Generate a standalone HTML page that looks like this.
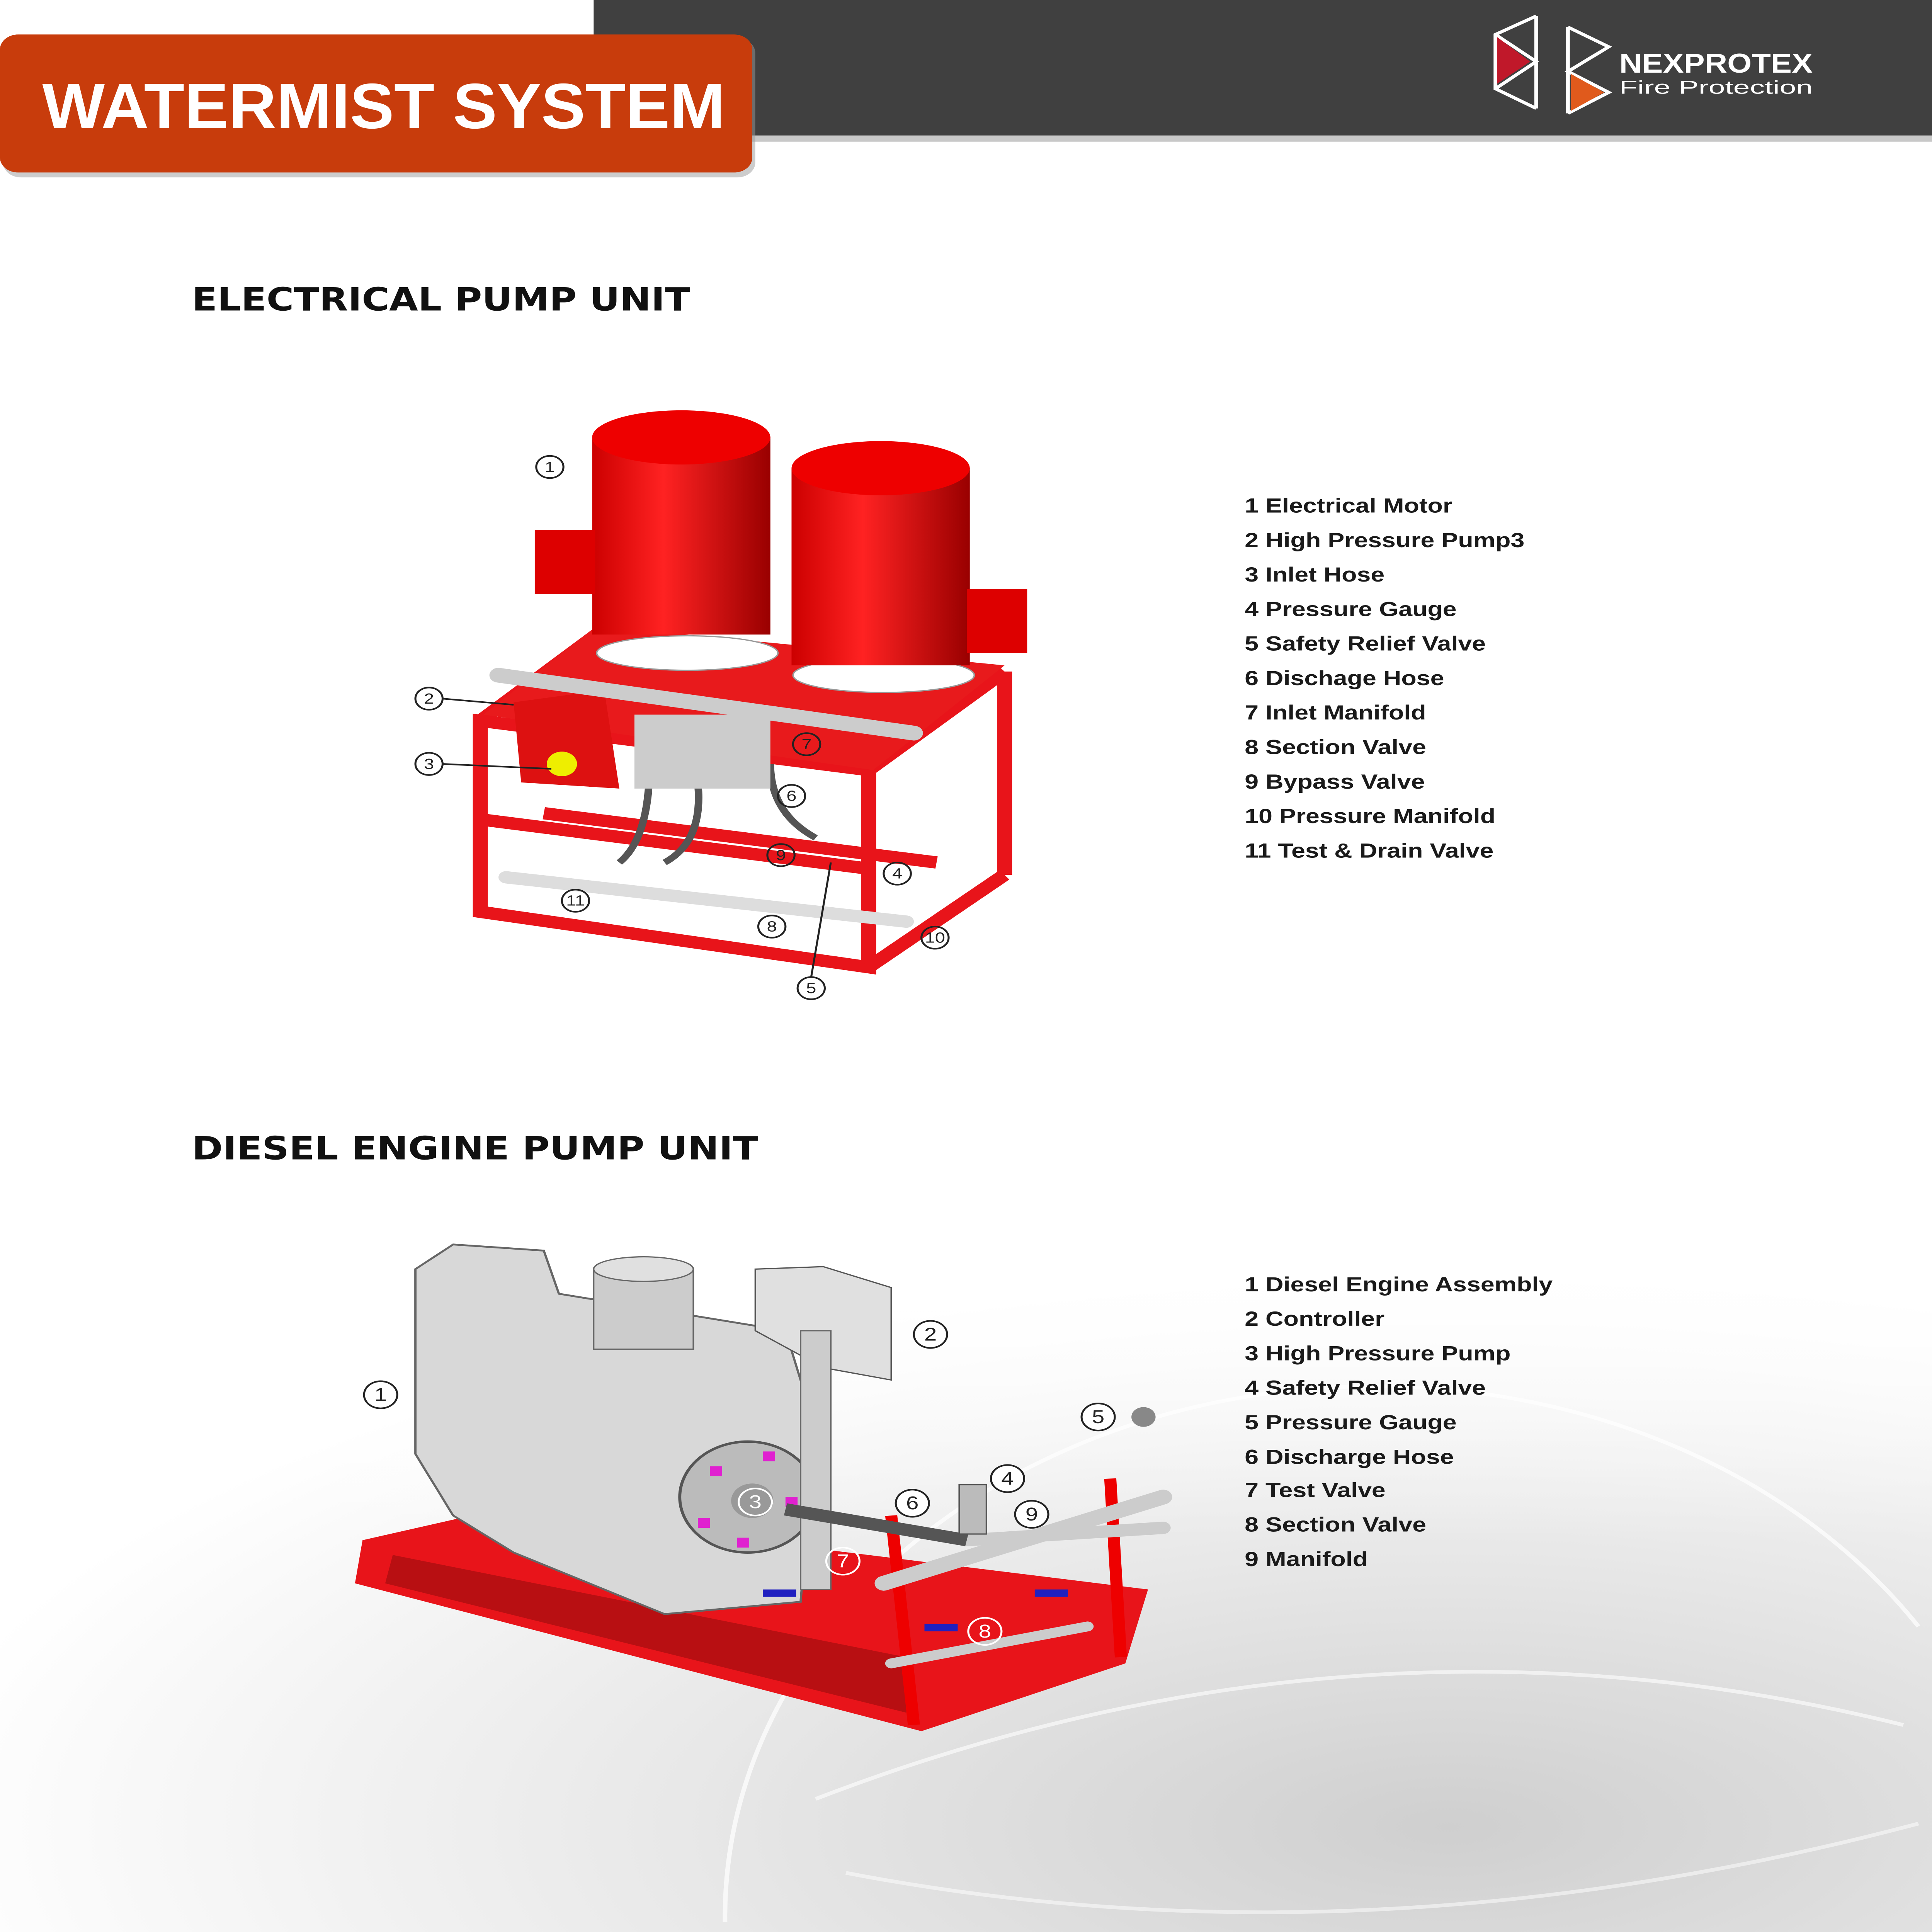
<!DOCTYPE html>
<html><head><meta charset="utf-8"><style>html,body{margin:0;padding:0;background:#fff;width:100%;height:100%;overflow:hidden}svg{display:block;position:fixed;left:0;top:0;width:100vw;height:100vh}</style></head>
<body>
<svg xmlns="http://www.w3.org/2000/svg" viewBox="0 0 1279 1568" preserveAspectRatio="none">
<defs>
<radialGradient id="bg" cx="0.75" cy="0.85" r="0.8">
<stop offset="0" stop-color="#cfcfcf"/><stop offset="0.5" stop-color="#e8e8e8"/><stop offset="1" stop-color="#ffffff"/>
</radialGradient>
<linearGradient id="fade" x1="0" y1="0" x2="0" y2="1">
<stop offset="0" stop-color="#fff" stop-opacity="1"/><stop offset="1" stop-color="#fff" stop-opacity="0"/>
</linearGradient>
<linearGradient id="motor" x1="0" x2="1">
<stop offset="0" stop-color="#c00"/><stop offset="0.4" stop-color="#f22"/><stop offset="1" stop-color="#900"/>
</linearGradient>
</defs>
<rect width="1279" height="1568" fill="#fff"/>
<rect x="0" y="1000" width="1279" height="568" fill="url(#bg)"/>
<rect x="0" y="1000" width="1279" height="250" fill="url(#fade)"/>
<path d="M480,1560 A430,430 0 0 1 1270,1320" fill="none" stroke="#fff" stroke-width="3" opacity="0.7"/>
<path d="M540,1460 Q900,1290 1260,1400" fill="none" stroke="#fff" stroke-width="3" opacity="0.6"/>
<path d="M560,1520 Q900,1600 1270,1480" fill="none" stroke="#fff" stroke-width="3" opacity="0.5"/>

<rect x="393" y="0" width="886" height="110" fill="#404040"/>
<rect x="393" y="110" width="886" height="5" fill="#c8c8c8"/>
<rect x="2" y="31" width="498" height="113" rx="12" fill="#999" opacity="0.5"/>
<rect x="0" y="28" width="498" height="112" rx="12" fill="#c83c0c"/>
<text x="28" y="104" font-family="Liberation Sans, sans-serif" font-weight="bold" font-size="52" fill="#fff" textLength="452" lengthAdjust="spacingAndGlyphs">WATERMIST SYSTEM</text>
<g stroke="#fff" stroke-width="2.5" fill="none">
<polyline points="1017,13 990,28 990,72 1017,88"/><line x1="1017" y1="13" x2="1017" y2="88"/>
<polyline points="990,28 1017,50 990,72"/>
<polyline points="1038,22 1065,38 1038,58 1065,75 1038,92"/><line x1="1038" y1="22" x2="1038" y2="92"/>
</g>
<polygon points="991,30 1013,50 991,68" fill="#c0182a"/>
<polygon points="1040,60 1062,75 1040,90" fill="#e05a1c"/>
<text x="1072" y="59" font-family="Liberation Sans, sans-serif" font-weight="bold" font-size="22" fill="#fff" textLength="128" lengthAdjust="spacingAndGlyphs">NEXPROTEX</text>
<text x="1072" y="76" font-family="Liberation Sans, sans-serif" font-size="15" fill="#fff" textLength="128" lengthAdjust="spacingAndGlyphs">Fire Protection</text>

<g font-family="DejaVu Sans, Liberation Sans, sans-serif" font-weight="bold" fill="#111">
<text x="127" y="252" font-size="26" textLength="330" lengthAdjust="spacingAndGlyphs">ELECTRICAL PUMP UNIT</text>
<text x="127" y="941" font-size="26" textLength="375" lengthAdjust="spacingAndGlyphs">DIESEL ENGINE PUMP UNIT</text>
</g>

<g font-family="Liberation Sans, sans-serif" font-weight="bold" font-size="16.5" fill="#1a1a1a">
<text x="824" y="416">1 Electrical Motor</text>
<text x="824" y="444">2 High Pressure Pump3</text>
<text x="824" y="472">3 Inlet Hose</text>
<text x="824" y="500">4 Pressure Gauge</text>
<text x="824" y="528">5 Safety Relief Valve</text>
<text x="824" y="556">6 Dischage Hose</text>
<text x="824" y="584">7 Inlet Manifold</text>
<text x="824" y="612">8 Section Valve</text>
<text x="824" y="640">9 Bypass Valve</text>
<text x="824" y="668">10 Pressure Manifold</text>
<text x="824" y="696">11 Test &amp; Drain Valve</text>
<text x="824" y="1048">1 Diesel Engine Assembly</text>
<text x="824" y="1076">2 Controller</text>
<text x="824" y="1104">3 High Pressure Pump</text>
<text x="824" y="1132">4 Safety Relief Valve</text>
<text x="824" y="1160">5 Pressure Gauge</text>
<text x="824" y="1188">6 Discharge Hose</text>
<text x="824" y="1215">7 Test Valve</text>
<text x="824" y="1243">8 Section Valve</text>
<text x="824" y="1271">9 Manifold</text>
</g>

<g>
<g fill="none" stroke="#e8141a" stroke-width="10">
<polygon points="318,585 575,625 575,785 318,740"/>
<line x1="575" y1="625" x2="665" y2="545"/><line x1="575" y1="785" x2="665" y2="710"/>
<line x1="665" y1="545" x2="665" y2="710"/><line x1="318" y1="585" x2="395" y2="515"/>
<line x1="318" y1="665" x2="575" y2="705"/>
<line x1="360" y1="660" x2="620" y2="700"/>
</g>
<polygon points="320,580 395,508 665,540 578,625" fill="#e81a1c"/>
<polygon points="340,570 400,560 410,640 345,635" fill="#d11"/>
<line x1="330" y1="548" x2="605" y2="595" stroke="#ccc" stroke-width="12" stroke-linecap="round"/>
<line x1="335" y1="712" x2="600" y2="748" stroke="#ddd" stroke-width="10" stroke-linecap="round"/>
<g fill="none" stroke="#555" stroke-width="5">
<path d="M430,620 q0,60 -20,80"/><path d="M460,620 q10,60 -20,80"/><path d="M510,620 q0,40 30,60"/>
</g>
<rect x="420" y="580" width="90" height="60" fill="#ccc"/>
<circle cx="372" cy="620" r="10" fill="#ee0"/>
<ellipse cx="455" cy="530" rx="60" ry="14" fill="#fff" stroke="#999"/>
<rect x="392" y="355" width="118" height="160" fill="url(#motor)"/>
<ellipse cx="451" cy="355" rx="59" ry="22" fill="#e00"/>
<rect x="354" y="430" width="40" height="52" fill="#d00"/>
<ellipse cx="585" cy="548" rx="60" ry="14" fill="#fff" stroke="#999"/>
<rect x="524" y="380" width="118" height="160" fill="url(#motor)"/>
<ellipse cx="583" cy="380" rx="59" ry="22" fill="#e00"/>
<rect x="640" y="478" width="40" height="52" fill="#d00"/>
</g>
<g font-family="Liberation Sans, sans-serif" font-size="12" fill="#222" text-anchor="middle" stroke-width="1.3">
<g fill="none" stroke="#222"><circle cx="364" cy="379" r="9"/><circle cx="284" cy="567" r="9"/><circle cx="284" cy="620" r="9"/><circle cx="534" cy="604" r="9"/><circle cx="524" cy="646" r="9"/><circle cx="517" cy="694" r="9"/><circle cx="594" cy="709" r="9"/><circle cx="381" cy="731" r="9"/><circle cx="511" cy="752" r="9"/><circle cx="619" cy="761" r="9"/><circle cx="537" cy="802" r="9"/>
<line x1="293" y1="567" x2="340" y2="572"/><line x1="293" y1="620" x2="365" y2="624"/><line x1="537" y1="793" x2="550" y2="700"/></g>
<text x="364" y="383">1</text><text x="284" y="571">2</text><text x="284" y="624">3</text><text x="534" y="608">7</text><text x="524" y="650">6</text><text x="517" y="698">9</text><text x="594" y="713">4</text><text x="381" y="735">11</text><text x="511" y="756">8</text><text x="619" y="765">10</text><text x="537" y="806">5</text>
</g>

<g>
<polygon points="240,1250 330,1225 760,1290 745,1350 610,1405 235,1285" fill="#e8141a"/>
<polygon points="260,1262 600,1345 600,1390 255,1285" fill="#b80f12"/>
<line x1="590" y1="1230" x2="605" y2="1400" stroke="#e00" stroke-width="8"/>
<line x1="735" y1="1200" x2="742" y2="1345" stroke="#e00" stroke-width="8"/>
<path d="M275,1030 L300,1010 L360,1015 L370,1050 L520,1080 L540,1160 L530,1300 L440,1310 L340,1260 L300,1230 L275,1180 Z" fill="#d8d8d8" stroke="#666" stroke-width="1.5"/>
<rect x="393" y="1030" width="66" height="65" fill="#ccc" stroke="#666"/>
<ellipse cx="426" cy="1030" rx="33" ry="10" fill="#e0e0e0" stroke="#666"/>
<circle cx="495" cy="1215" r="45" fill="#bbb" stroke="#555" stroke-width="2"/>
<circle cx="498" cy="1218" r="14" fill="#999"/>
<g fill="#e020d0"><rect x="470" y="1190" width="8" height="8"/><rect x="505" y="1178" width="8" height="8"/><rect x="520" y="1215" width="8" height="8"/><rect x="488" y="1248" width="8" height="8"/><rect x="462" y="1232" width="8" height="8"/></g>
<polygon points="500,1030 545,1028 590,1045 590,1120 545,1110 500,1080" fill="#e0e0e0" stroke="#555"/>
<rect x="530" y="1080" width="20" height="210" fill="#ccc" stroke="#666"/>
<line x1="585" y1="1285" x2="770" y2="1215" stroke="#ccc" stroke-width="12" stroke-linecap="round"/>
<line x1="640" y1="1250" x2="770" y2="1240" stroke="#ccc" stroke-width="10" stroke-linecap="round"/>
<line x1="590" y1="1350" x2="720" y2="1320" stroke="#ccc" stroke-width="8" stroke-linecap="round"/>
<line x1="520" y1="1225" x2="640" y2="1250" stroke="#555" stroke-width="10"/>
<rect x="635" y="1205" width="18" height="40" fill="#bbb" stroke="#555"/>
<circle cx="757" cy="1150" r="8" fill="#888"/>
<rect x="505" y="1290" width="22" height="6" fill="#2020c0"/><rect x="612" y="1318" width="22" height="6" fill="#2020c0"/><rect x="685" y="1290" width="22" height="6" fill="#2020c0"/>
</g>
<g font-family="Liberation Sans, sans-serif" font-size="15" fill="#222" text-anchor="middle">
<g fill="#fff" stroke="#222" stroke-width="1.3"><circle cx="252" cy="1132" r="11"/><circle cx="616" cy="1083" r="11"/><circle cx="727" cy="1150" r="11"/><circle cx="667" cy="1200" r="11"/><circle cx="683" cy="1229" r="11"/><circle cx="604" cy="1220" r="11"/></g>
<text x="252" y="1137">1</text><text x="616" y="1088">2</text><text x="727" y="1155">5</text><text x="667" y="1205">4</text><text x="683" y="1234">9</text><text x="604" y="1225">6</text>
<g fill="none" stroke="#fff" stroke-width="1.3"><circle cx="500" cy="1219" r="11"/><circle cx="558" cy="1267" r="11"/><circle cx="652" cy="1324" r="11"/></g>
<text x="500" y="1224" fill="#fff">3</text><text x="558" y="1272" fill="#fff">7</text><text x="652" y="1329" fill="#fff">8</text>
</g>
</svg>
</body></html>
